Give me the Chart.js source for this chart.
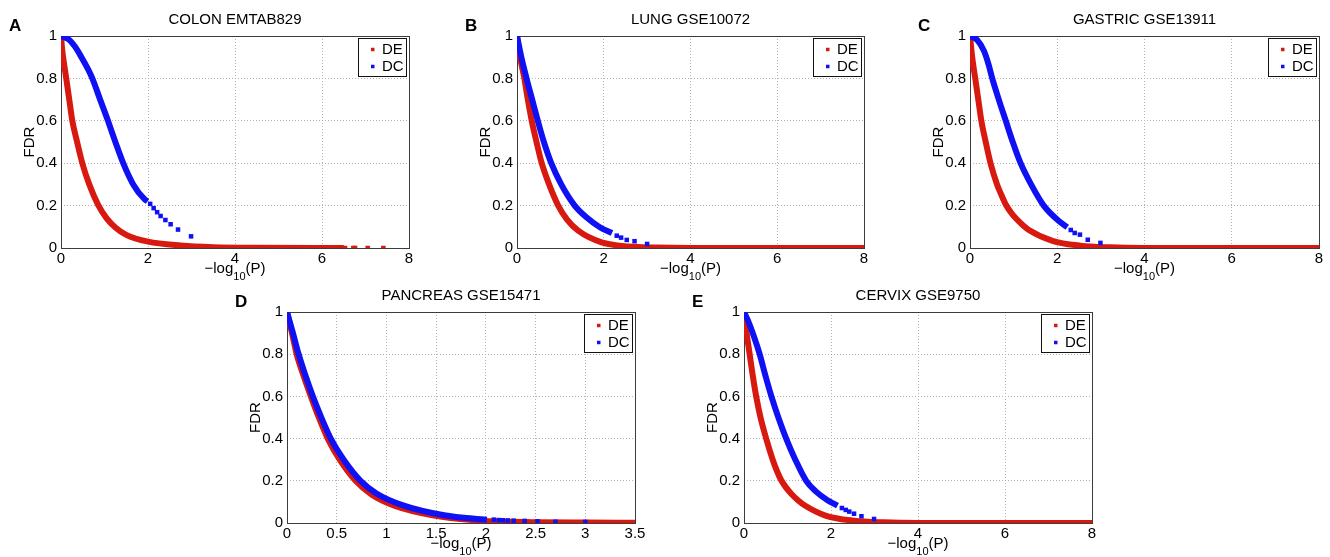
<!DOCTYPE html>
<html>
<head>
<meta charset="utf-8">
<script src="https://cdn.jsdelivr.net/npm/chart.js@4.4.1/dist/chart.umd.min.js"></script>
<style>
    body { margin: 0; background: #fff; width: 1330px; height: 557px; overflow: hidden; position: relative; }
    .panel { position: absolute; }
</style>
</head>
<body>
<div id="contenedor"></div>
<script>
// valores: [-log10(P), FDR]
const colonDE = [[0,1],[0.03,0.93],[0.07,0.87],[0.12,0.8],[0.19,0.7],[0.26,0.6],[0.37,0.5],[0.49,0.4],[0.65,0.3],[0.85,0.205],[1.05,0.14],[1.25,0.097],[1.5,0.062],[2.0,0.03],[2.75,0.012],[3.5,0.004],[4.5,0.001],[6.5,0]];
const colonDETail = [[6.53,0],[6.72,0],[6.76,0],[7.05,0],[7.41,0]];
const colonDC = [[0,1],[0.17,0.985],[0.32,0.95],[0.47,0.9],[0.63,0.84],[0.72,0.8],[0.9,0.7],[1.08,0.6],[1.25,0.5],[1.43,0.4],[1.66,0.3],[1.92,0.23],[1.99,0.22]];
const colonDCTail = [[2.05,0.208],[2.13,0.188],[2.21,0.169],[2.29,0.151],[2.40,0.132],[2.52,0.112],[2.69,0.087],[2.99,0.055]];

const lungDE = [[0,1],[0.07,0.9],[0.17,0.8],[0.25,0.7],[0.34,0.6],[0.45,0.5],[0.57,0.4],[0.74,0.3],[0.95,0.2],[1.15,0.135],[1.41,0.082],[1.95,0.027],[2.57,0.007],[3.2,0.002],[4,0],[8,0]];
const lungDC = [[0,1],[0.1,0.9],[0.22,0.8],[0.35,0.7],[0.48,0.6],[0.62,0.5],[0.79,0.4],[1.02,0.3],[1.33,0.2],[1.6,0.145],[1.91,0.098],[2.19,0.071]];
const lungDCTail = [[2.30,0.058],[2.40,0.049],[2.53,0.038],[2.71,0.032],[3.0,0.019]];

const gastricDE = [[0,1],[0.05,0.9],[0.12,0.8],[0.19,0.7],[0.26,0.6],[0.36,0.5],[0.47,0.4],[0.62,0.3],[0.72,0.25],[0.82,0.205],[0.93,0.17],[1.05,0.14],[1.2,0.11],[1.35,0.085],[1.89,0.034],[2.53,0.011],[3.2,0.003],[4,0],[8,0]];
const gastricDC = [[0,1],[0.17,0.98],[0.32,0.93],[0.42,0.87],[0.51,0.8],[0.66,0.7],[0.82,0.6],[0.98,0.5],[1.16,0.4],[1.4,0.3],[1.69,0.2],[2.08,0.12],[2.23,0.098]];
const gastricDCTail = [[2.31,0.085],[2.40,0.071],[2.52,0.063],[2.70,0.039],[2.99,0.024]];

const pancreasDE = [[0,1],[0.05,0.9],[0.097,0.8],[0.165,0.7],[0.24,0.6],[0.32,0.5],[0.41,0.4],[0.53,0.3],[0.69,0.2],[0.85,0.135],[1.08,0.082],[1.48,0.035],[1.95,0.011],[2.5,0.004],[3.0,0.002],[3.5,0.001]];
const pancreasDC = [[0,1],[0.06,0.9],[0.117,0.8],[0.185,0.7],[0.26,0.6],[0.345,0.5],[0.44,0.4],[0.57,0.3],[0.74,0.2],[0.9,0.14],[1.16,0.085],[1.58,0.037],[2.01,0.015]];
const pancreasDCTail = [[2.08,0.016],[2.13,0.014],[2.17,0.013],[2.22,0.012],[2.28,0.011],[2.39,0.01],[2.52,0.008],[2.7,0.006],[3.0,0.005]];

const cervixDE = [[0,1],[0.06,0.9],[0.13,0.8],[0.2,0.7],[0.28,0.6],[0.38,0.5],[0.51,0.4],[0.66,0.3],[0.75,0.25],[0.85,0.205],[0.96,0.17],[1.08,0.14],[1.24,0.108],[1.4,0.083],[1.89,0.034],[2.53,0.011],[3.2,0.003],[4,0],[8,0]];
const cervixDC = [[0,1],[0.09,0.96],[0.2,0.9],[0.36,0.8],[0.49,0.7],[0.63,0.6],[0.79,0.5],[0.97,0.4],[1.18,0.3],[1.43,0.2],[1.65,0.15],[1.92,0.108],[2.15,0.082]];
const cervixDCTail = [[2.25,0.071],[2.34,0.062],[2.42,0.054],[2.53,0.044],[2.70,0.032],[2.99,0.019]];

const series = ["DE", "DC"];
const ticksY = [0, 0.2, 0.4, 0.6, 0.8, 1];

const rojo = "#d7190f";
const azul = "#1010f5";
const fuente = "'Liberation Sans', Arial, Helvetica, sans-serif";

// cada panel: posicion del area del grafico en la pagina y sus datos
const paneles = [
    { id: "canvaA", letra: "A", titulo: "COLON EMTAB829", x: 61, y: 36, w: 348, h: 212, abajo: 44, derecha: 11, xMax: 8, xPaso: 2,
      de: colonDE, deCola: colonDETail, dc: colonDC, dcCola: colonDCTail },
    { id: "canvaB", letra: "B", titulo: "LUNG GSE10072", x: 517, y: 36, w: 347, h: 212, abajo: 44, derecha: 11, xMax: 8, xPaso: 2,
      de: lungDE, deCola: [], dc: lungDC, dcCola: lungDCTail },
    { id: "canvaC", letra: "C", titulo: "GASTRIC GSE13911", x: 970, y: 36, w: 349, h: 212, abajo: 44, derecha: 11, xMax: 8, xPaso: 2,
      de: gastricDE, deCola: [], dc: gastricDC, dcCola: gastricDCTail },
    { id: "canvaD", letra: "D", titulo: "PANCREAS GSE15471", x: 287, y: 312, w: 348, h: 211, abajo: 34, derecha: 16, xMax: 3.5, xPaso: 0.5,
      de: pancreasDE, deCola: [], dc: pancreasDC, dcCola: pancreasDCTail },
    { id: "canvaE", letra: "E", titulo: "CERVIX GSE9750", x: 744, y: 312, w: 348, h: 211, abajo: 34, derecha: 11, xMax: 8, xPaso: 2,
      de: cervixDE, deCola: [], dc: cervixDC, dcCola: cervixDCTail }
];

const IZQ = 61, ARRIBA = 36;

function aPuntos(lista) {
    return lista.map(p => ({ x: p[0], y: p[1] }));
}

// etiquetas como en matlab: 0, 0.2 ... 1 (sin ceros de relleno)
function etiqueta(valor) {
    return String(Number(valor.toFixed(2)));
}

// marco, leyenda, letra del panel y etiqueta del eje x con subindice
const extras = {
    id: "extras",
    beforeDatasetsDraw(chart) {
        const { ctx, chartArea: a } = chart;
        ctx.save();
        ctx.strokeStyle = "#3c3c3c";
        ctx.lineWidth = 1;
        ctx.strokeRect(a.left + 0.5, a.top + 0.5, a.width, a.height);
        ctx.restore();
    },
    afterDraw(chart, args, opts) {
        const { ctx, chartArea: a } = chart;
        ctx.save();

        let lx = a.right - 51, ly = a.top + 2, lw = 48, lh = 38;
        ctx.fillStyle = "#fff";
        ctx.fillRect(lx, ly, lw, lh);
        ctx.strokeStyle = "#111";
        ctx.lineWidth = 1;
        ctx.strokeRect(lx + 0.5, ly + 0.5, lw, lh);
        ctx.font = "15px " + fuente;
        ctx.textBaseline = "middle";
        ctx.textAlign = "left";
        [rojo, azul].forEach((color, i) => {
            let cy = ly + 11.5 + i * 17;
            ctx.fillStyle = color;
            ctx.fillRect(lx + 13, cy - 1.75, 3.5, 3.5);
            ctx.fillStyle = "#000";
            ctx.fillText(series[i], lx + 24, cy + 0.5);
        });

        ctx.font = "bold 17px " + fuente;
        ctx.fillText(opts.letra, a.left - 52, a.top - 9.5);

        let base = a.bottom + 25;
        let f1 = "15px " + fuente, f2 = "11px " + fuente;
        ctx.font = f1;
        let w1 = ctx.measureText("\u2212log").width;
        let w3 = ctx.measureText("(P)").width;
        ctx.font = f2;
        let w2 = ctx.measureText("10").width;
        let x = (a.left + a.right) / 2 - (w1 + w2 + w3) / 2;
        ctx.textBaseline = "alphabetic";
        ctx.font = f1;
        ctx.fillText("\u2212log", x, base);
        x += w1;
        ctx.font = f2;
        ctx.fillText("10", x, base + 7);
        x += w2;
        ctx.font = f1;
        ctx.fillText("(P)", x, base);
        ctx.restore();
    }
};

Chart.defaults.font.family = fuente;
Chart.defaults.color = "#000";

paneles.forEach(p => {
    let ancho = IZQ + p.w + p.derecha;
    let alto = ARRIBA + p.h + p.abajo;
    document.getElementById("contenedor").insertAdjacentHTML("beforeend",
        `<div class="panel" style="left:${p.x - IZQ}px;top:${p.y - ARRIBA}px;width:${ancho}px;height:${alto}px"><canvas id="${p.id}"></canvas></div>`);

    new Chart(document.getElementById(p.id), {
        type: "scatter",
        data: {
            datasets: [{
                label: series[1],
                data: aPuntos(p.dc),
                showLine: true,
                borderColor: azul,
                borderWidth: 6,
                pointRadius: 0,
                cubicInterpolationMode: "monotone",
                order: 1
            }, {
                label: series[1] + " cola",
                data: aPuntos(p.dcCola),
                backgroundColor: azul,
                pointStyle: "rect",
                pointRadius: 3.2,
                pointBorderWidth: 0,
                order: 1
            }, {
                label: series[0],
                data: aPuntos(p.de),
                showLine: true,
                borderColor: rojo,
                borderWidth: 6,
                pointRadius: 0,
                cubicInterpolationMode: "monotone",
                order: 2
            }, {
                label: series[0] + " cola",
                data: aPuntos(p.deCola),
                backgroundColor: rojo,
                pointStyle: "rect",
                pointRadius: 3.2,
                pointBorderWidth: 0,
                order: 2
            }]
        },
        options: {
            responsive: true,
            maintainAspectRatio: false,
            animation: false,
            layout: { padding: { left: 0, right: p.derecha, top: 0, bottom: 0 } },
            plugins: {
                legend: { display: false },
                tooltip: { enabled: false },
                title: {
                    display: true,
                    text: p.titulo,
                    fullSize: false,
                    color: "#000",
                    font: { size: 15, weight: "normal", lineHeight: 1 },
                    padding: { top: 12.5, bottom: 8.5 }
                },
                extras: { letra: p.letra }
            },
            scales: {
                x: {
                    type: "linear",
                    min: 0,
                    max: p.xMax,
                    ticks: { stepSize: p.xPaso, font: { size: 15 }, padding: 2, maxRotation: 0, autoSkip: false, callback: etiqueta },
                    grid: { color: "#b4b4b4", drawTicks: false },
                    border: { display: false, dash: [1, 2] },
                    afterFit: s => { s.height = p.abajo; }
                },
                y: {
                    min: 0,
                    max: 1,
                    afterBuildTicks: s => { s.ticks = ticksY.map(v => ({ value: v })); },
                    ticks: { font: { size: 15 }, padding: 4, callback: etiqueta },
                    grid: { color: "#b4b4b4", drawTicks: false },
                    border: { display: false, dash: [1, 2] },
                    title: { display: true, text: "FDR", font: { size: 15 }, padding: { top: 21, bottom: 0 } },
                    afterFit: s => { s.width = IZQ; }
                }
            }
        },
        plugins: [extras]
    });
});
</script>
</body>
</html>
